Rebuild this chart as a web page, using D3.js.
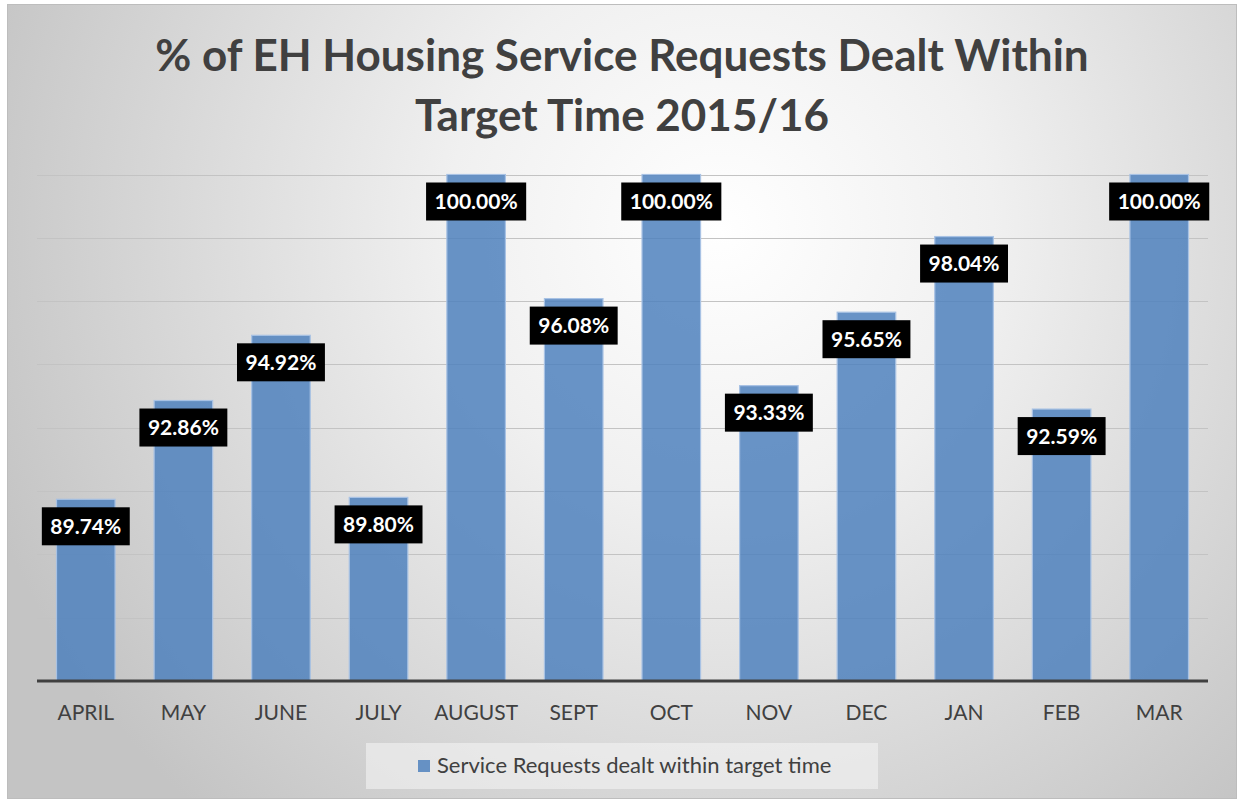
<!DOCTYPE html>
<html><head><meta charset="utf-8">
<script src="https://cdn.jsdelivr.net/npm/d3@7"></script>
<style>html,body{margin:0;padding:0;background:#fff;}svg{display:block;}</style>
</head><body>
<svg id="chart" width="1239" height="800"></svg>
<script>
const months = ["APRIL","MAY","JUNE","JULY","AUGUST","SEPT","OCT","NOV","DEC","JAN","FEB","MAR"];
const values = [89.74,92.86,94.92,89.80,100.00,96.08,100.00,93.33,95.65,98.04,92.59,100.00];
const gridTicks = [84,86,88,90,92,94,96,98,100];
const titleLines = ["% of EH Housing Service Requests Dealt Within","Target Time 2015/16"];
const seriesName = "Service Requests dealt within target time";

const svg = d3.select("#chart");
const W = 1239, H = 800;
const FONT = "Lato, 'Open Sans', sans-serif";

const defs = svg.append("defs");
const rg = defs.append("radialGradient").attr("id","bg")
  .attr("gradientUnits","userSpaceOnUse").attr("cx",720).attr("cy",230).attr("r",780);
rg.append("stop").attr("offset","0").attr("stop-color","#ffffff");
rg.append("stop").attr("offset","0.35").attr("stop-color","#f0f0f0");
rg.append("stop").attr("offset","1").attr("stop-color","#c4c4c4");

svg.append("rect").attr("x",0).attr("y",0).attr("width",W).attr("height",H).attr("fill","#fff");
svg.append("rect").attr("x",7.5).attr("y",4.5).attr("width",1229).attr("height",794)
  .attr("fill","url(#bg)").attr("stroke","#bdbdbd").attr("stroke-width",1);

const x = d3.scaleBand().domain(months).range([37,1208]).paddingInner(0.4).paddingOuter(0.2);
const y = d3.scaleLinear().domain([84,100]).range([681,174.5]);

// gridlines
svg.append("g").selectAll("line").data(gridTicks.slice(1)).join("line")
  .attr("x1",37).attr("x2",1208)
  .attr("y1",d=>Math.round(y(d))+0.5).attr("y2",d=>Math.round(y(d))+0.5)
  .attr("stroke","#c3c3c3").attr("stroke-width",1);

// bars
svg.append("g").selectAll("rect").data(values).join("rect")
  .attr("x",(d,i)=>x(months[i]))
  .attr("y",d=>y(d))
  .attr("width",x.bandwidth())
  .attr("height",d=>y(84)-y(d))
  .attr("fill","#4f81bd").attr("fill-opacity",0.85)
  .attr("stroke","#a8c2e4").attr("stroke-width",1.2);

// baseline axis
const xAxis = d3.axisBottom(x).tickSize(0).tickPadding(24);
const ax = svg.append("g").attr("transform",`translate(0,${y(84)})`).call(xAxis);
ax.select(".domain").attr("stroke","#404040").attr("stroke-width",3).attr("d","M37,0H1208");
ax.selectAll("text").attr("font-family",FONT).attr("font-size",21).attr("fill","#404040");

// data labels
const lg = svg.append("g").selectAll("g").data(values).join("g")
  .attr("transform",(d,i)=>`translate(${x(months[i])+x.bandwidth()/2},${y(d)+27})`);
lg.append("rect").attr("fill","#000");
lg.append("text").attr("text-anchor","middle").attr("dy","0.36em")
  .attr("font-family",FONT).attr("font-weight","bold").attr("font-size",21).attr("fill","#fff")
  .text(d=>d.toFixed(2)+"%");
lg.each(function(){
  const g = d3.select(this);
  const w = g.select("text").node().getComputedTextLength();
  g.select("rect").attr("x",-w/2-8.5).attr("y",-19).attr("width",w+17).attr("height",38);
});

// title
svg.append("g").selectAll("text").data(titleLines).join("text")
  .attr("x",622).attr("y",(d,i)=>71+i*60).attr("text-anchor","middle")
  .attr("font-family",FONT).attr("font-weight","bold").attr("font-size",44).attr("fill","#404040")
  .text(d=>d);

// legend
svg.append("rect").attr("x",366).attr("y",743).attr("width",512).attr("height",46)
  .attr("fill","#f4f4f4").attr("fill-opacity",0.6);
svg.append("rect").attr("x",418).attr("y",760).attr("width",12).attr("height",12)
  .attr("fill","#4f81bd").attr("fill-opacity",0.85);
svg.append("text").attr("x",437).attr("y",773).attr("font-family",FONT).attr("font-size",22)
  .attr("fill","#404040").text(seriesName);
</script>
</body></html>
